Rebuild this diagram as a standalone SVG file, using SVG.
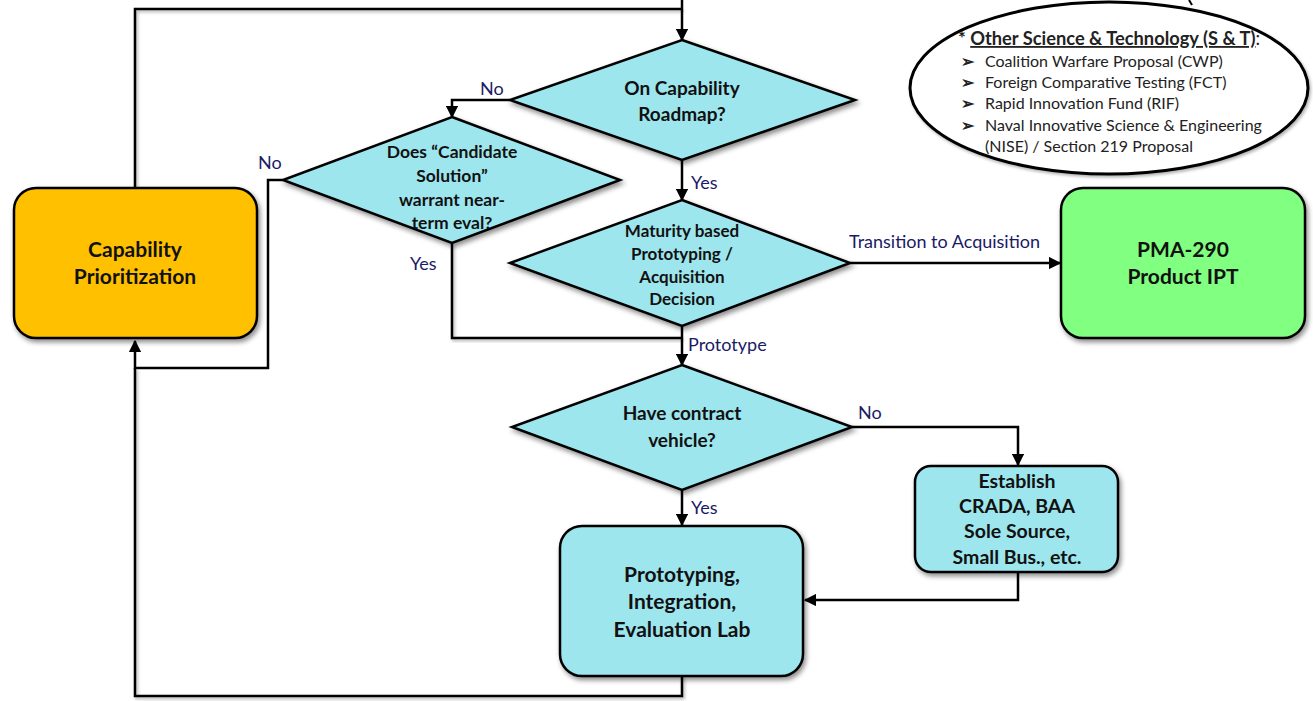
<svg xmlns="http://www.w3.org/2000/svg" width="1313" height="701" viewBox="0 0 1313 701">
<defs>
<filter id="sh" x="-10%" y="-10%" width="125%" height="130%">
<feDropShadow dx="2" dy="3" stdDeviation="2.5" flood-color="#000" flood-opacity="0.45"/>
</filter>
<filter id="lsh" x="-5%" y="-5%" width="110%" height="110%">
<feDropShadow dx="1.5" dy="2" stdDeviation="1.5" flood-color="#000" flood-opacity="0.3"/>
</filter>
<marker id="ar" viewBox="0 0 10 10" refX="9" refY="5" markerWidth="5" markerHeight="5" orient="auto-start-reverse" markerUnits="strokeWidth">
<path d="M0,0 L10,5 L0,10 z" fill="#000"/>
</marker>
<style>
.dia{fill:#9EE6EE;stroke:#000;stroke-width:2.5;filter:url(#sh)}
.box{stroke:#000;stroke-width:2.5;filter:url(#sh)}
.t{font-family:Lato,"Open Sans","Liberation Sans",sans-serif;font-weight:bold;fill:#111;text-anchor:middle}
.lb{font-family:Lato,"Open Sans","Liberation Sans",sans-serif;font-size:18px;fill:#1a1a66}
.c{fill:none;stroke:#000;stroke-width:2.5;filter:url(#lsh)}
.ca{fill:none;stroke:#000;stroke-width:2.5;marker-end:url(#ar)}
.el{font-family:Lato,"Open Sans","Liberation Sans",sans-serif;font-size:16px;fill:#222}
.hd{font-family:Lato,"Open Sans","Liberation Sans",sans-serif;font-size:18.3px;fill:#222}
</style>
</defs>
<rect width="1313" height="701" fill="#fff"/>

<g id="connectors">
<path class="ca" d="M682,0 V40"/>
<path class="c" d="M135,188 V9 H682"/>
<path class="ca" d="M510,100 H452 V117"/>
<path class="ca" d="M682,160 V200"/>
<path class="ca" d="M850,263 H1060"/>
<path class="ca" d="M283,180 H268 V368 H135 V341"/>
<path class="c" d="M452,243 V338 H682"/>
<path class="ca" d="M682,326 V365"/>
<path class="ca" d="M852,427 H1018 V465"/>
<path class="ca" d="M682,490 V525"/>
<path class="ca" d="M1018,572 V600 H805"/>
<path class="c" d="M682,676 V696 H135 V368"/>
<path fill="none" stroke="#000" stroke-width="2" d="M1189,0 L1192,5"/>
</g>

<g id="labels">
<text class="lb" x="480" y="95">No</text>
<text class="lb" x="258" y="169">No</text>
<text class="lb" x="410" y="270">Yes</text>
<text class="lb" x="691" y="189">Yes</text>
<text class="lb" x="849" y="248">Transition to Acquisition</text>
<text class="lb" x="688" y="351">Prototype</text>
<text class="lb" x="858" y="419">No</text>
<text class="lb" x="691" y="514">Yes</text>
</g>

<g id="capability-prioritization">
<rect class="box" x="14" y="188" width="243" height="150" rx="22" fill="#FFC000"/>
<text class="t" font-size="21" x="135" y="257">Capability</text>
<text class="t" font-size="21" x="135" y="284">Prioritization</text>
</g>

<g id="on-capability-roadmap">
<polygon class="dia" points="682,40 855,100 682,160 510,100"/>
<text class="t" font-size="19" x="682" y="95">On Capability</text>
<text class="t" font-size="19" x="682" y="121">Roadmap?</text>
</g>

<g id="candidate-solution">
<polygon class="dia" points="452,117 620,180 452,243 283,180"/>
<text class="t" font-size="17.5" x="452" y="158">Does “Candidate</text>
<text class="t" font-size="17.5" x="452" y="182">Solution”</text>
<text class="t" font-size="17.5" x="452" y="206">warrant near-</text>
<text class="t" font-size="17.5" x="452" y="229">term eval?</text>
</g>

<g id="maturity-decision">
<polygon class="dia" points="682,200 850,263 682,326 510,263"/>
<text class="t" font-size="17" x="682" y="237">Maturity based</text>
<text class="t" font-size="17" x="682" y="260">Prototyping  /</text>
<text class="t" font-size="17" x="682" y="283">Acquisition</text>
<text class="t" font-size="17" x="682" y="305">Decision</text>
</g>

<g id="pma-290">
<rect class="box" x="1061" y="188" width="244" height="150" rx="22" fill="#80FF80"/>
<text class="t" font-size="21" x="1183" y="257">PMA-290</text>
<text class="t" font-size="21" x="1183" y="284">Product IPT</text>
</g>

<g id="contract-vehicle">
<polygon class="dia" points="682,365 852,427 682,490 512,427"/>
<text class="t" font-size="19" x="682" y="420">Have contract</text>
<text class="t" font-size="19" x="682" y="447">vehicle?</text>
</g>

<g id="establish">
<rect class="box" x="915" y="466" width="203" height="106" rx="16" fill="#9EE6EE"/>
<text class="t" font-size="19.5" x="1017" y="488">Establish</text>
<text class="t" font-size="19.5" x="1017" y="513">CRADA, BAA</text>
<text class="t" font-size="19.5" x="1017" y="538">Sole Source,</text>
<text class="t" font-size="19.5" x="1017" y="564">Small Bus., etc.</text>
</g>

<g id="prototyping-lab">
<rect class="box" x="560" y="526" width="243" height="150" rx="22" fill="#9EE6EE"/>
<text class="t" font-size="21" x="682" y="582">Prototyping,</text>
<text class="t" font-size="21" x="682" y="609">Integration,</text>
<text class="t" font-size="21" x="682" y="637">Evaluation  Lab</text>
</g>

<g id="other-st">
<ellipse cx="1109" cy="88" rx="199" ry="86" fill="#fff" stroke="#000" stroke-width="3" filter="url(#lsh)"/>
<text class="hd" x="958" y="45"><tspan font-weight="bold">* </tspan><tspan font-weight="bold" text-decoration="underline">Other Science &amp; Technology (S &amp; T)</tspan><tspan>:</tspan></text>
<text class="el" x="961" y="67" font-weight="bold">➢</text>
<text class="el" x="985" y="67">Coalition Warfare Proposal (CWP)</text>
<text class="el" x="961" y="88" font-weight="bold">➢</text>
<text class="el" x="985" y="88">Foreign Comparative Testing (FCT)</text>
<text class="el" x="961" y="109" font-weight="bold">➢</text>
<text class="el" x="985" y="109">Rapid Innovation Fund (RIF)</text>
<text class="el" x="961" y="131" font-weight="bold">➢</text>
<text class="el" x="985" y="131">Naval Innovative Science &amp; Engineering</text>
<text class="el" x="985" y="152">(NISE) / Section 219 Proposal</text>
</g>
</svg>
